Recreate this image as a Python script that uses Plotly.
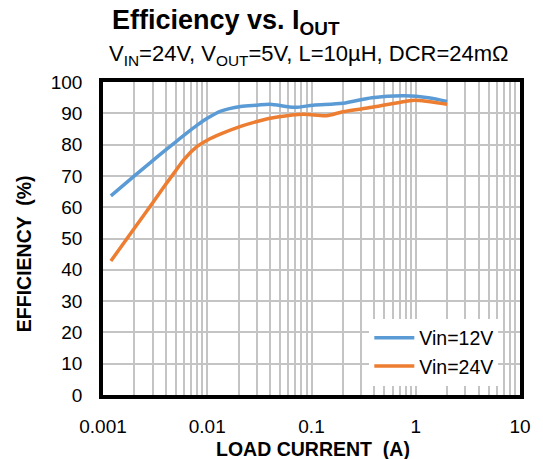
import plotly.graph_objects as go

# Data
load_12 = [0.00119, 0.002, 0.003, 0.004, 0.005, 0.006, 0.008, 0.01, 0.0135, 0.0209,
           0.030, 0.040, 0.069, 0.104, 0.2, 0.38, 0.79, 1.32, 2.0]
eff_12 = [63.6, 70.0, 74.9, 78.3, 80.9, 83.0, 86.2, 88.4, 90.7, 92.2,
          92.6, 92.9, 91.9, 92.6, 93.2, 95.0, 95.6, 95.0, 93.8]

load_24 = [0.00119, 0.002, 0.003, 0.004, 0.005, 0.006, 0.008, 0.01, 0.0135, 0.0209,
           0.030, 0.047, 0.084, 0.139, 0.2, 0.38, 0.79, 0.98, 2.0]
eff_24 = [42.8, 53.3, 61.4, 67.3, 71.7, 75.3, 79.4, 81.4, 83.4, 85.8,
          87.4, 88.8, 89.7, 89.2, 90.5, 91.9, 93.8, 94.2, 92.9]

x_tickvals = [0.001, 0.01, 0.1, 1, 10]
x_ticktext = ["0.001", "0.01", "0.1", "1", "10"]
y_tickvals = list(range(0, 101, 10))

FONT = "Arial, Liberation Sans, sans-serif"
L, R, T, B = 103, 17, 82, 64
PW, PH = 543 - L - R, 459 - T - B

fig = go.Figure()
fig.add_trace(go.Scatter(x=load_12, y=eff_12, mode="lines", name="Vin=12V",
                         line=dict(color="#5B9BD5", width=3.5, shape="spline", smoothing=0.8)))
fig.add_trace(go.Scatter(x=load_24, y=eff_24, mode="lines", name="Vin=24V",
                         line=dict(color="#ED7D31", width=3.5, shape="spline", smoothing=0.8)))

def px_x(px):
    return (px - L) / PW

def px_y(py):
    return (459 - B - py) / PH

fig.update_layout(
    width=543, height=459,
    margin=dict(l=L, r=R, t=T, b=B),
    paper_bgcolor="white", plot_bgcolor="white",
    font=dict(family=FONT, color="black", size=19),
    showlegend=True,
    legend=dict(x=px_x(504), y=px_y(352), xanchor="right", yanchor="middle",
                bgcolor="white", font=dict(size=19.5, color="black"),
                tracegroupgap=0, itemwidth=40),
    annotations=[
        dict(text="<b>Efficiency vs. I<sub>OUT</sub></b>", xref="paper", yref="paper",
             x=px_x(110), y=px_y(22), xanchor="left", yanchor="middle",
             showarrow=False, font=dict(size=27, family=FONT, color="black")),
        dict(text="V<sub>IN</sub>=24V, V<sub>OUT</sub>=5V, L=10µH, DCR=24mΩ", xref="paper", yref="paper",
             x=px_x(107), y=px_y(55), xanchor="left", yanchor="middle",
             showarrow=False, font=dict(size=22, family=FONT, color="black")),
        dict(text="<b>LOAD CURRENT  (A)</b>", xref="paper", yref="paper",
             x=px_x(316), y=px_y(449), xanchor="center", yanchor="middle",
             showarrow=False, font=dict(size=19.5, family=FONT, color="black")),
        dict(text="<b>EFFICIENCY  (%)</b>", xref="paper", yref="paper", textangle=-90,
             x=px_x(23), y=px_y(254), xanchor="center", yanchor="middle",
             showarrow=False, font=dict(size=19.5, family=FONT, color="black")),
    ],
)

fig.update_xaxes(
    type="log", range=[-3, 1],
    tickvals=x_tickvals, ticktext=x_ticktext, ticks="",
    showgrid=True, gridcolor="#c4c4c4", gridwidth=2,
    minor=dict(dtick="D1", showgrid=True, gridcolor="#c4c4c4", gridwidth=1.8, ticks=""),
    showline=True, linecolor="black", linewidth=3.5, mirror=True,
    tickfont=dict(size=19), ticklabelstandoff=11,
    zeroline=False,
)
fig.update_yaxes(
    range=[0, 100], tickvals=y_tickvals, ticks="",
    showgrid=True, gridcolor="#c4c4c4", gridwidth=2,
    showline=True, linecolor="black", linewidth=3.5, mirror=True,
    tickfont=dict(size=19), ticklabelstandoff=13,
    zeroline=False,
)

fig.write_html("out.html", config={"displayModeBar": False},
               post_script="document.body.style.margin='0';")
